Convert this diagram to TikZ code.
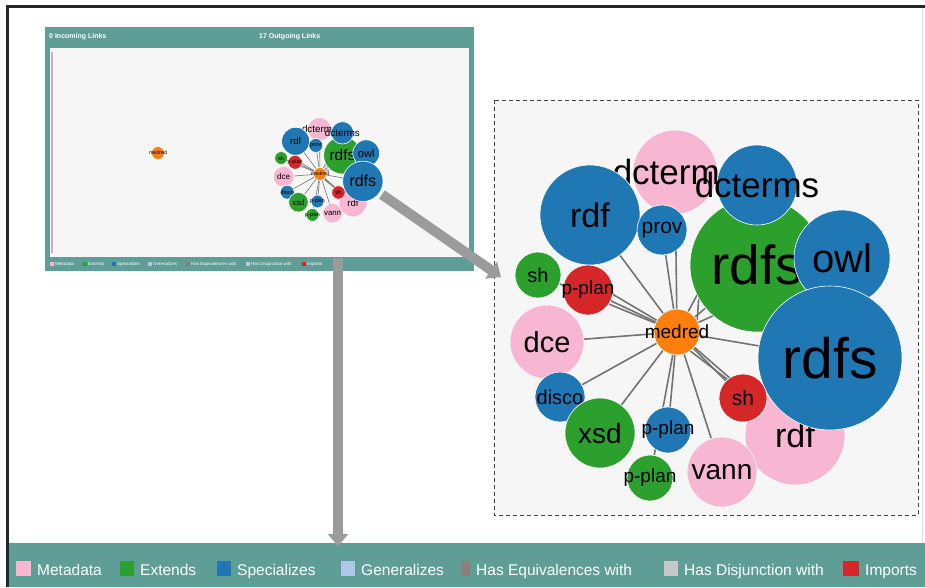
\documentclass[tikz,border=0pt]{standalone}
\usepackage{fontspec}
\setmainfont{Liberation Sans}
\usetikzlibrary{arrows.meta}

\definecolor{metapink}{HTML}{F7B6D2}
\definecolor{extgreen}{HTML}{2CA02C}
\definecolor{specblue}{HTML}{1F77B4}
\definecolor{genblue}{HTML}{AEC7E8}
\definecolor{equivgray}{HTML}{8C7E79}
\definecolor{disjgray}{HTML}{C7C7C7}
\definecolor{impred}{HTML}{D62728}
\definecolor{medorange}{HTML}{FF7F0E}
\definecolor{panelteal}{HTML}{5F9E97}
\definecolor{linkgray}{HTML}{737373}
\definecolor{arrowgray}{HTML}{9B9B9B}

\pgfdeclarelayer{background}
\pgfdeclarelayer{links}
\pgfsetlayers{background,links,main}

\newcommand{\ctext}[1]{\makebox[0pt]{#1}}

\tikzset{
  onto/.style={circle,inner sep=0pt,draw=white,line width=0.6pt,text=black},
  ontolink/.style={draw=linkgray,line width=#1},
  keytext/.style={anchor=base west,inner sep=0pt,text=white},
}

% ontology cluster around medred, #1 = name prefix, #2 = link width
\newcommand{\ontograph}[2]{%
  \foreach \n/\x/\y/\r/\c/\s/\t in {
      dctp/-2/-160/42/metapink/35/dcterms,
      rdfb/-87/-117/50/specblue/34/rdf,
      prov/-15/-102/25/specblue/21/prov,
      rdfsg/80/-67/67/extgreen/55/rdfs,
      dctb/80/-147/40/specblue/35/dcterms,
      owl/165/-74/48/specblue/40/owl,
      rdfp/118/103/50/metapink/34/rdf,
      rdfsb/153/26/72/specblue/57/rdfs,
      shr/66/66/24/impred/21/sh,
      vann/45/140/35/metapink/28/vann,
      shg/-139/-57/23/extgreen/20/sh,
      pplr/-89/-42/25/impred/19/p-plan,
      dce/-130/10/37/metapink/29/dce,
      disco/-117/65/25/specblue/20/disco,
      xsd/-77/101/35/extgreen/28/xsd,
      pplb/-9/98/23/specblue/19/p-plan,
      pplg/-27/146/23/extgreen/19/p-plan}
    \node[onto,fill=\c,minimum size=2*\r,font=\fontsize{\s}{\s}\selectfont] (#1\n) at (\x,\y) {\ctext{\t}};
  \node[onto,fill=medorange,minimum size=46,font=\fontsize{19}{19}\selectfont] (#1med) at (0,0) {\ctext{medred}};
  \begin{pgfonlayer}{links}
    \foreach \n in {dctp,rdfb,prov,rdfsg,dctb,owl,rdfsb,rdfp,shr,vann,shg,pplr,dce,disco,xsd,pplb,pplg}
      \draw[ontolink=#2] (#1med) -- (#1\n);
    \draw[ontolink=#2] (#1med.150) -- (#1pplr.-10);
    \draw[ontolink=#2] (#1med.-55) -- (#1shr.130);
    \draw[ontolink=#2] (#1med.30) -- (#1rdfsg.210);
  \end{pgfonlayer}
}

\begin{document}
\begin{tikzpicture}[x=1pt,y=-1pt]
\useasboundingbox (0,0) rectangle (925,587);

\begin{pgfonlayer}{background}
\fill[white] (0,0) rectangle (925,587);
\fill[panelteal] (7,543) rectangle (925,587);
\draw[line width=3pt,black!85] (925,6) -- (7,6) -- (7,587);
\draw[gray!25] (922,8) -- (922,543);

\fill[panelteal] (45,27) rectangle (474,271);
\fill[gray!7] (50,48) rectangle (469,257);
\draw[violet!35,line width=1.5pt] (52,52) -- (52,253);
\node[keytext,anchor=west,font=\bfseries\fontsize{7}{7}\selectfont] (inlinks) at (49,37) {0 Incoming Links};
\node[keytext,anchor=west,font=\bfseries\fontsize{7}{7}\selectfont] (outlinks) at (259,37) {17 Outgoing Links};

\draw[dash pattern=on 4pt off 3pt,draw=black!75,fill=gray!7,line width=1pt] (494,100) rectangle (918,515);
\end{pgfonlayer}

\foreach \x/\c/\t [count=\i] in {50/metapink/Metadata, 83/extgreen/Extends, 112/specblue/Specializes,
    148/genblue/Generalizes, 186/equivgray/Has Equivalences with, 246/disjgray/Has Disjunction with, 302/impred/Imports}{
  \fill[\c] (\x,262) rectangle ++(3.5,4);
  \node[keytext,font=\fontsize{4.5}{4.5}\selectfont] (minikey\i) at (\x+5,265.5) {\t};
}

\foreach \x/\w/\c/\t [count=\i] in {16/15/metapink/Metadata, 120/14/extgreen/Extends, 217/14/specblue/Specializes,
    341/14/genblue/Generalizes, 461/9/equivgray/Has Equivalences with, 664/14/disjgray/Has Disjunction with, 843/16/impred/Imports}{
  \fill[\c] (\x,561) rectangle ++(\w,15);
  \node[keytext,font=\fontsize{15.5}{15.5}\selectfont] (key\i) at (\x+\w+6,575) {\t};
}

\node[onto,fill=medorange,minimum size=13,font=\fontsize{5.3}{5.3}\selectfont] (lonemed) at (158,153) {\ctext{medred}};

\begin{scope}[shift={(677,332)}]
  \ontograph{z-}{1.6pt}
\end{scope}

\begin{scope}[shift={(320,174)},scale=0.28,transform shape]
  \ontograph{m-}{0.6pt}
\end{scope}

\coordinate (zoomin) at (501,277);
\coordinate (panelfoot) at (338,258);
\coordinate (legendtop) at (338,546);
\draw[arrowgray,line width=10pt,shorten <=3pt,-{Triangle[width=20pt,length=12pt]}] (m-rdfsb) -- (zoomin);
\draw[arrowgray,line width=10pt,-{Triangle[width=20pt,length=12pt]}] (panelfoot) -- (legendtop);
\end{tikzpicture}
\end{document}
